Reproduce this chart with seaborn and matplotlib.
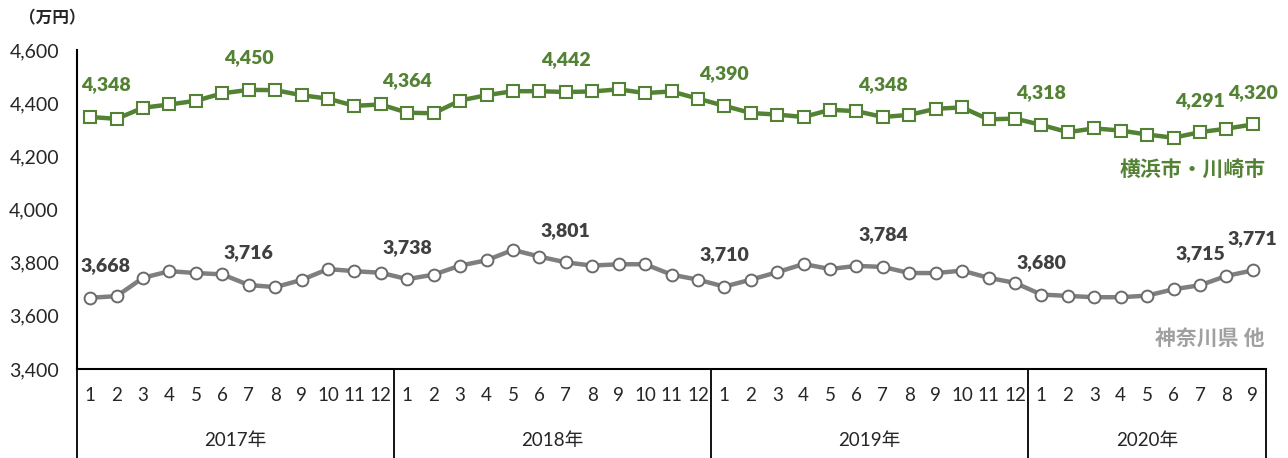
import numpy as np
import pandas as pd
import matplotlib
matplotlib.use('Agg')
import matplotlib.pyplot as plt
import matplotlib.transforms as mtransforms
import seaborn as sns

# data: Jan 2017 - Sep 2020, monthly (万円)
years = ['2017年', '2018年', '2019年', '2020年']
months_per_year = [12, 12, 12, 9]
yokohama = [4348, 4341, 4383, 4395, 4409, 4437, 4450, 4449, 4430, 4417, 4390, 4395,
            4364, 4362, 4410, 4430, 4445, 4445, 4442, 4444, 4452, 4438, 4444, 4417,
            4390, 4363, 4357, 4348, 4375, 4370, 4348, 4356, 4379, 4384, 4339, 4342,
            4318, 4291, 4305, 4297, 4282, 4270, 4291, 4304, 4320]
kanagawa = [3668, 3674, 3743, 3768, 3761, 3756, 3716, 3708, 3735, 3776, 3768, 3762,
            3738, 3755, 3789, 3809, 3848, 3823, 3801, 3789, 3794, 3794, 3755, 3736,
            3710, 3736, 3764, 3795, 3776, 3788, 3784, 3761, 3761, 3770, 3743, 3724,
            3680, 3675, 3670, 3670, 3676, 3700, 3715, 3750, 3771]
label_idx = [0, 6, 12, 18, 24, 30, 36, 42, 44]
series_names = ['横浜市・川崎市', '神奈川県 他']
green = '#548235'
gray = '#7f7f7f'

sns.set_style('white')
plt.rcParams['font.family'] = ['Lato', 'Noto Sans CJK JP', 'DejaVu Sans']

month_labels = [str(m) for n in months_per_year for m in range(1, n + 1)]
df = pd.DataFrame({'idx': np.arange(len(yokohama)), 'yokohama': yokohama, 'kanagawa': kanagawa})

fig = plt.figure(figsize=(12.88, 4.58), dpi=100)
ax = fig.add_axes([77 / 1288, 89 / 458, (1266 - 77) / 1288, 319 / 458])

sns.lineplot(data=df, x='idx', y='yokohama', ax=ax, color=green, linewidth=3.2,
             marker='s', markersize=8, markerfacecolor='white', markeredgecolor=green,
             markeredgewidth=1.5, solid_joinstyle='round', zorder=3)
sns.lineplot(data=df, x='idx', y='kanagawa', ax=ax, color=gray, linewidth=3.2,
             marker='o', markersize=8.5, markerfacecolor='white', markeredgecolor='#6a6a6a',
             markeredgewidth=1.4, solid_joinstyle='round', zorder=3)

# data labels every 6 months and the last point
for i in label_idx:
    dx = 11 if i == 0 else 0
    ax.annotate(f'{yokohama[i]:,}', (i, yokohama[i]), xytext=(dx, 23), textcoords='offset points',
                ha='center', va='center', fontsize=14, fontweight='heavy', color=green)
    ax.annotate(f'{kanagawa[i]:,}', (i, kanagawa[i]), xytext=(dx, 23), textcoords='offset points',
                ha='center', va='center', fontsize=14, fontweight='heavy', color='#404040')

ax.set_ylim(3400, 4600)
ax.set_xlim(-0.5, len(yokohama) - 0.5)
ax.set_yticks(np.arange(3400, 4601, 200))
ax.set_yticklabels([f'{v:,}' for v in np.arange(3400, 4601, 200)], fontsize=14)
ax.set_xticks(df['idx'])
ax.set_xticklabels(month_labels, fontsize=13.5)
ax.tick_params(axis='x', length=0, pad=13)
ax.tick_params(axis='y', direction='out', length=4, width=1.2, pad=9)
ax.set_xlabel('')
ax.set_ylabel('')

for s in ['top', 'right']:
    ax.spines[s].set_visible(False)
for s in ['left', 'bottom']:
    ax.spines[s].set_linewidth(1.5)
    ax.spines[s].set_color('black')

# year group separators and labels under the month row
trans = mtransforms.blended_transform_factory(ax.transData, ax.transAxes)
bounds = np.concatenate([[0], np.cumsum(months_per_year)]) - 0.5
for b in bounds:
    ax.plot([b, b], [0, -0.35], transform=trans, color='black', linewidth=1.3, clip_on=False)
for k, yr in enumerate(years):
    ax.text((bounds[k] + bounds[k + 1]) / 2, -0.225, yr, transform=trans,
            ha='center', va='center', fontsize=13.5)

# series names
ax.text(1.0, 0.625, series_names[0], transform=ax.transAxes, ha='right', va='center',
        fontsize=15, fontweight='bold', color=green)
ax.text(0.999, 0.095, series_names[1], transform=ax.transAxes, ha='right', va='center',
        fontsize=15, fontweight='bold', color='#a0a0a0')

fig.text(52 / 1288, 1 - 18 / 458, '（万円）', ha='center', va='center', fontsize=12,
         fontweight='bold')

fig.savefig('out.png', dpi=100)
